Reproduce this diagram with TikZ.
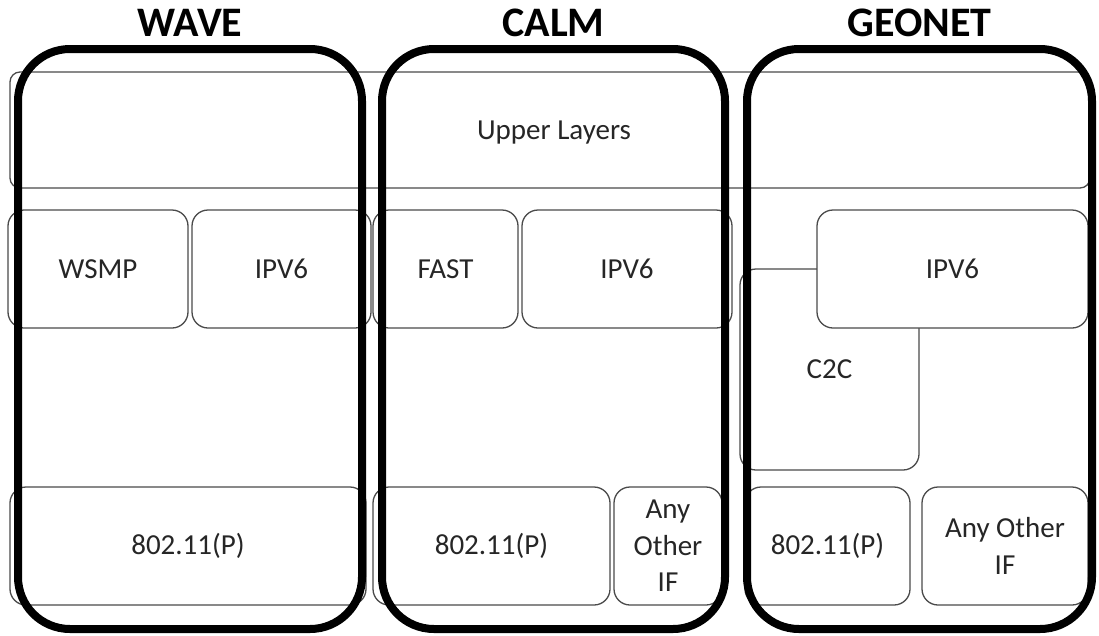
\documentclass[tikz,border=0pt]{standalone}
\usepackage{fontspec}
\setmainfont{Carlito}
\definecolor{linegray}{HTML}{4A4A4A}
\definecolor{textgray}{HTML}{262626}
\begin{document}
\begin{tikzpicture}[x=1pt,y=-1pt,
  layer/.style={draw=linegray, line width=1.3pt, fill=white, rounded corners=16pt,
    font=\fontsize{29}{36.5}\selectfont, text=textgray, inner sep=0pt, align=center,
    minimum height=118pt},
  caption/.style={font=\fontsize{29}{36.5}\selectfont, text=textgray, inner sep=0pt},
  stackframe/.style={draw=black, line width=8pt, rounded corners=52pt,
    minimum width=344pt, minimum height=580pt, inner sep=0pt},
  title/.style={font=\fontsize{42}{50}\selectfont\bfseries, text=black}]
\useasboundingbox (0,0) rectangle (1099,635);

% shared upper layers band
\node[layer, rounded corners=10pt, minimum width=1080pt, minimum height=116pt] (upper) at (550,130) {};
\node[caption] (uppertext) at (554,133) {Upper Layers};

% WAVE stack
\node[layer, minimum width=180pt] (wsmp) at (98,269) {WSMP};
\node[layer, minimum width=179pt] (wipv) at (281.5,269) {IPV6};
\node[layer, minimum width=356pt] (wphy) at (188,546) {802.11(P)};

% CALM stack
\node[layer, minimum width=145pt] (fast) at (445.5,269) {FAST};
\node[layer, minimum width=210pt] (cipv) at (627,269) {IPV6};
\node[layer, minimum width=237pt] (cphy) at (491.5,546) {802.11(P)};
\node[layer, minimum width=108pt] (cany) at (668,546) {Any\\Other\\IF};

% GEONET stack
\node[layer, minimum width=179pt, minimum height=201pt] (c2c) at (829.5,369.5) {C2C};
\node[layer, minimum width=271pt] (gipv) at (952.5,269) {IPV6};
\node[layer, minimum width=165pt] (gphy) at (827.5,546) {802.11(P)};
\node[layer, minimum width=166pt] (gany) at (1005,546) {Any Other\\IF};

% thick outlines grouping each architecture
\node[stackframe] (wave) at (190,339) {};
\node[stackframe, minimum width=343pt] (calm) at (553.5,339) {};
\node[stackframe, minimum width=345pt] (geonet) at (919.5,339) {};

% titles
\node[title] (wavetitle) at (wave.north |- 0,23) {WAVE};
\node[title] (calmtitle) at (calm.north |- 0,23) {CALM};
\node[title] (geonettitle) at (geonet.north |- 0,23) {GEONET};
\end{tikzpicture}
\end{document}
